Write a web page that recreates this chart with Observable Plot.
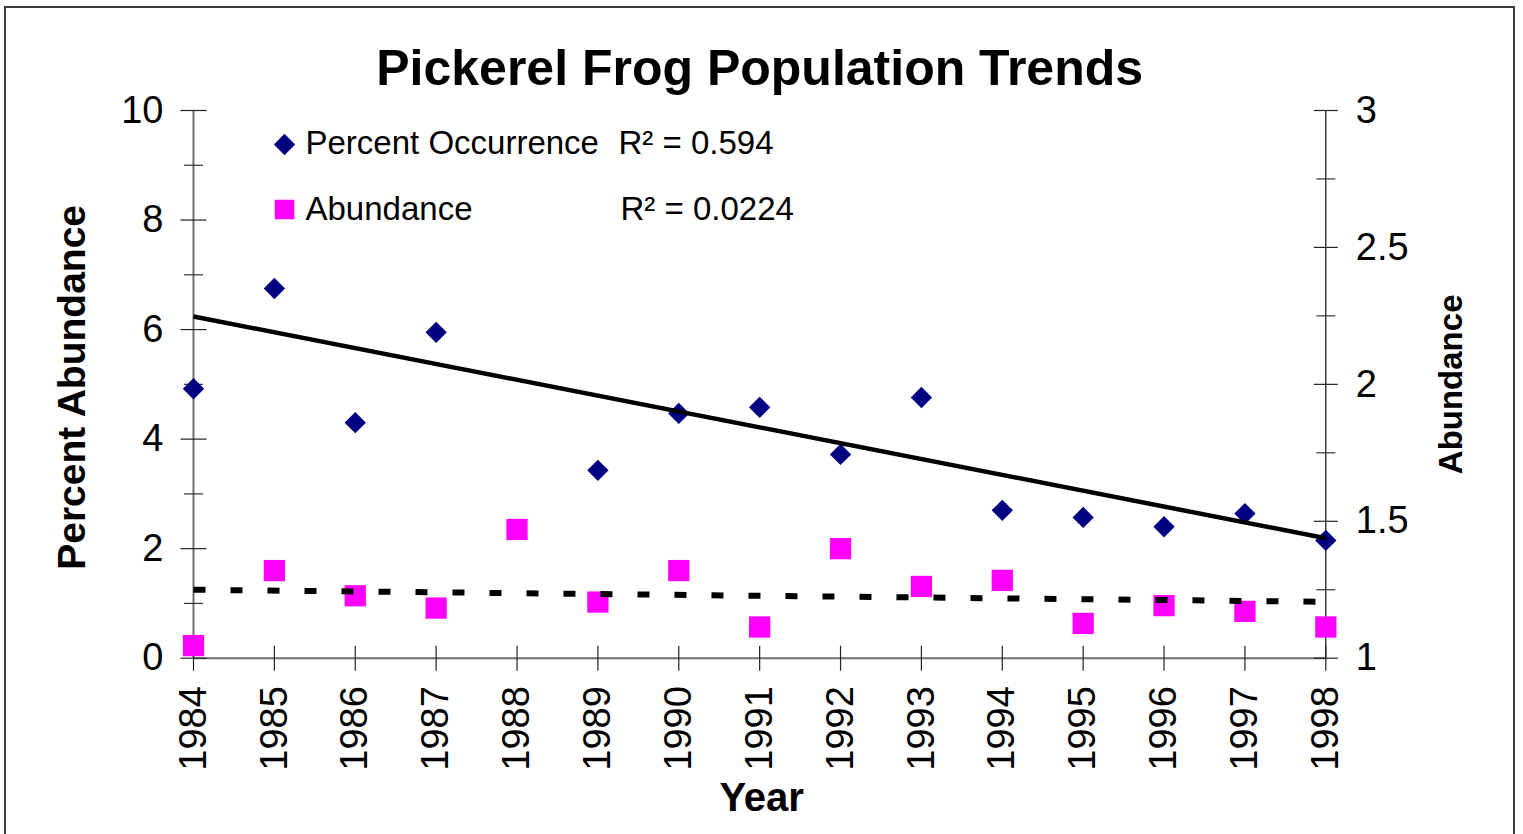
<!DOCTYPE html>
<html>
<head>
<meta charset="utf-8">
<script src="https://cdn.jsdelivr.net/npm/d3@7"></script>
<script src="https://cdn.jsdelivr.net/npm/@observablehq/plot@0.6"></script>
<style>
  html, body { margin: 0; padding: 0; background: #fff; overflow: hidden; }
  #wrap { position: relative; width: 1523px; height: 834px; }
  #border { position: absolute; left: 4px; top: 6px; width: 1511px; height: 900px;
            border: 2px solid #3c3c3c; pointer-events: none; box-sizing: border-box; }
</style>
</head>
<body>
<div id="wrap"><div id="border"></div></div>
<script>
// ---- data ----
const years = [1984, 1985, 1986, 1987, 1988, 1989, 1990, 1991, 1992, 1993, 1994, 1995, 1996, 1997, 1998];
const percentOccurrence = [4.92, 6.75, 4.30, 5.95, null, 3.43, 4.47, 4.58, 3.72, 4.76, 2.70, 2.57, 2.40, 2.64, 2.15];
const abundance = [1.046, 1.32, 1.228, 1.183, 1.47, 1.205, 1.32, 1.114, 1.40, 1.262, 1.284, 1.127, 1.192, 1.171, 1.114];
const trendYears = [1984, 1998];
const occurrenceTrend = [6.24, 2.19];
const abundanceTrend = [1.25, 1.206];
const leftTicks = [0, 2, 4, 6, 8, 10];
const leftMinorTicks = [1, 3, 5, 7, 9];
const rightTicks = [1, 1.5, 2, 2.5, 3];
const rightMinorTicks = [1.25, 1.75, 2.25, 2.75];
const titleText = "Pickerel Frog Population Trends";
const leftAxisTitle = "Percent Abundance";
const rightAxisTitle = "Abundance";
const xAxisTitle = "Year";
const seriesNames = ["Percent Occurrence", "Abundance"];
const rSquared = ["R\u00B2 = 0.594", "R\u00B2 = 0.0224"];

// ---- derived tables ----
const rightMin = 1, rightMax = 3, leftMax = 10;
const toLeft = v => (v - rightMin) / (rightMax - rightMin) * leftMax;   // right-axis value -> left-axis units
const toRight = v => rightMin + v / leftMax * (rightMax - rightMin);

const occData = years.map((year, i) => ({year, value: percentOccurrence[i]})).filter(d => d.value != null);
const abData = years.map((year, i) => ({year, value: abundance[i]}));
const occTrendData = trendYears.map((year, i) => ({year, value: occurrenceTrend[i]}));
const abTrendData = trendYears.map((year, i) => ({year, value: abundanceTrend[i]}));

const NAVY = "#000080", MAGENTA = "#ff00ff";
const FONT = "'Liberation Sans', Arial, Helvetica, sans-serif";

// tick-line symbols (cross the axis line, like the reference)
const hTick = {draw(ctx, size) { const r = Math.sqrt(size / Math.PI); ctx.moveTo(-r, 0); ctx.lineTo(r, 0); }};
const vTick = {draw(ctx, size) { const r = Math.sqrt(size / Math.PI); ctx.moveTo(0, -r); ctx.lineTo(0, r); }};

const chart = Plot.plot({
  width: 1523,
  height: 834,
  marginLeft: 193,
  marginRight: 197.7,
  marginTop: 110,
  marginBottom: 176.3,
  x: {type: "linear", domain: [1984, 1998]},
  y: {domain: [0, 10]},
  style: {fontFamily: FONT, background: "transparent", color: "black", overflow: "visible"},
  marks: [
    // axis lines
    Plot.ruleX([1984], {stroke: "#6e6e6e", strokeWidth: 2}),
    Plot.ruleX([1998], {stroke: "#111", strokeWidth: 1.2}),
    Plot.ruleY([0], {stroke: "#6e6e6e", strokeWidth: 2}),
    // ticks crossing the axes
    Plot.dot(leftTicks, {x: 1984, y: d => d, symbol: hTick, r: 13, fill: "none", stroke: "#222", strokeWidth: 1.2}),
    Plot.dot(leftMinorTicks, {x: 1984, y: d => d, symbol: hTick, r: 9.5, fill: "none", stroke: "#333", strokeWidth: 1.2}),
    Plot.dot(rightTicks, {x: 1998, y: d => toLeft(d), symbol: hTick, r: 12, fill: "none", stroke: "#222", strokeWidth: 1.2}),
    Plot.dot(rightMinorTicks, {x: 1998, y: d => toLeft(d), symbol: hTick, r: 9.5, fill: "none", stroke: "#333", strokeWidth: 1.2}),
    Plot.dot(years, {x: d => d, y: 0, symbol: vTick, r: 12.5, fill: "none", stroke: "#222", strokeWidth: 1.2}),
    // tick labels
    Plot.axisY({anchor: "left", ticks: leftTicks, tickSize: 0, tickPadding: 30, fontSize: 38, label: null, tickFormat: d => String(d)}),
    Plot.axisY({anchor: "right", ticks: rightTicks.map(toLeft), tickSize: 0, tickPadding: 30, fontSize: 38, label: null,
                tickFormat: d => String(+toRight(d).toFixed(2))}),
    Plot.axisX({ticks: years, tickSize: 0, tickPadding: 28, tickRotate: -90, fontSize: 38, label: null, tickFormat: d => String(d)}),
    // data markers
    Plot.dot(abData, {x: "year", y: d => toLeft(d.value), symbol: "square", r: 12, fill: MAGENTA, stroke: "none"}),
    Plot.dot(occData, {x: "year", y: "value", symbol: "diamond2", r: 9.6, fill: NAVY, stroke: "none"}),
    // trend lines
    Plot.line(occTrendData, {x: "year", y: "value", stroke: "black", strokeWidth: 4.5, strokeLinecap: "butt"}),
    Plot.line(abTrendData, {x: "year", y: d => toLeft(d.value), stroke: "black", strokeWidth: 6, strokeDasharray: "12,25", strokeLinecap: "butt"}),
    // titles
    Plot.text([titleText], {text: d => d, frameAnchor: "top", lineAnchor: "middle", textAnchor: "middle", dy: -42, fontSize: 50, fontWeight: "bold"}),
    Plot.text([leftAxisTitle], {text: d => d, frameAnchor: "left", lineAnchor: "middle", textAnchor: "middle", dx: -121, dy: 3, rotate: -90, fontSize: 39, fontWeight: "bold"}),
    Plot.text([rightAxisTitle], {text: d => d, frameAnchor: "right", lineAnchor: "middle", textAnchor: "middle", dx: 126, dy: 0, rotate: -90, fontSize: 33, fontWeight: "bold"}),
    Plot.text([xAxisTitle], {text: d => d, frameAnchor: "bottom", lineAnchor: "middle", textAnchor: "middle", dx: 2, dy: 140, fontSize: 40, fontWeight: "bold"}),
    // legend
    Plot.dot([seriesNames[0]], {frameAnchor: "top-left", dx: 91, dy: 34, symbol: "diamond2", r: 9.6, fill: NAVY, stroke: "none"}),
    Plot.dot([seriesNames[1]], {frameAnchor: "top-left", dx: 91, dy: 99, symbol: "square", r: 11, fill: MAGENTA, stroke: "none"}),
    Plot.text([seriesNames[0]], {text: d => d, frameAnchor: "top-left", lineAnchor: "middle", dx: 112, dy: 33, textAnchor: "start", fontSize: 33}),
    Plot.text([seriesNames[1]], {text: d => d, frameAnchor: "top-left", lineAnchor: "middle", dx: 112, dy: 99, textAnchor: "start", fontSize: 33}),
    Plot.text([rSquared[0]], {text: d => d, frameAnchor: "top-left", lineAnchor: "middle", dx: 425, dy: 33, textAnchor: "start", fontSize: 33}),
    Plot.text([rSquared[1]], {text: d => d, frameAnchor: "top-left", lineAnchor: "middle", dx: 427, dy: 99, textAnchor: "start", fontSize: 33})
  ]
});
chart.style.position = "absolute";
chart.style.left = "0px";
chart.style.top = "0px";
document.getElementById("wrap").prepend(chart);
</script>
</body>
</html>
